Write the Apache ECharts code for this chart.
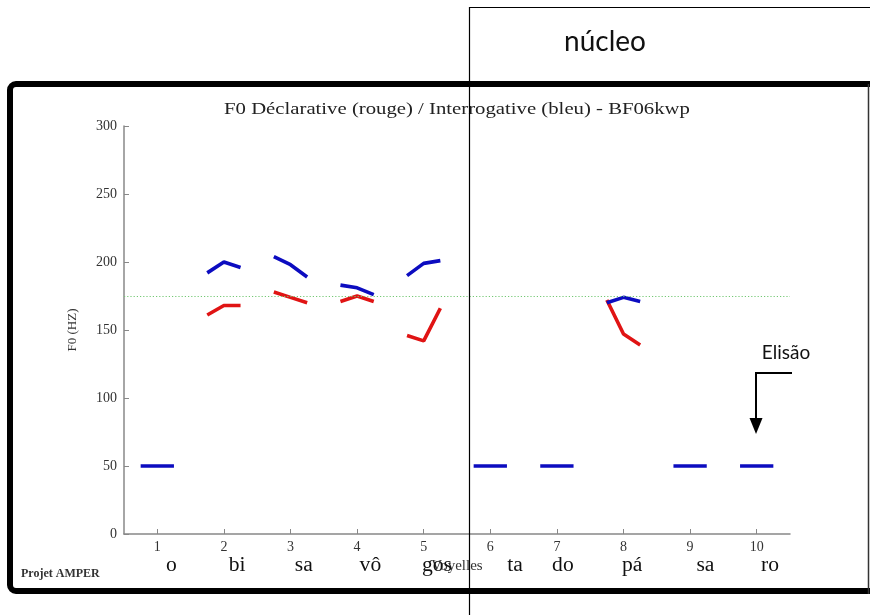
<!DOCTYPE html>
<html>
<head>
<meta charset="utf-8">
<script src="https://cdn.jsdelivr.net/npm/echarts@6/dist/echarts.min.js"></script>
<style>
html,body{margin:0;padding:0;background:#fff;}
#chart{width:870px;height:615px;}
</style>
</head>
<body>
<div id="chart"></div>
<script>
// ---- data ----
var vowels = [1, 2, 3, 4, 5, 6, 7, 8, 9, 10];
var tickLabels = ['1', '2', '3', '4', '5', '6', '7', '8', '9', '10'];
var pointOffsets = [-0.25, 0, 0.25];
var blueF0 = [
  [50, 50, 50],
  [192, 200, 196],
  [204, 198, 189],
  [183, 181, 176],
  [190, 199, 201],
  [50, 50, 50],
  [50, 50, 50],
  [170, 174, 171],
  [50, 50, 50],
  [50, 50, 50]
];
var redF0 = [
  null,
  [161, 168, 168],
  [178, 174, 170],
  [171, 175, 171],
  [146, 142, 166],
  null,
  null,
  [172, 147, 139],
  null,
  null
];
var referenceF0 = 175;
var syllables = ['o', 'bi', 'sa', 'vô', 'gos', 'ta', 'do', 'pá', 'sa', 'ro'];
var syllablePos = [1.21, 2.2, 3.2, 4.2, 5.2, 6.37, 7.09, 8.13, 9.23, 10.2];

var BLUE = '#0c0cc0';
var RED = '#e01414';
var SERIF = '"Liberation Serif","Times New Roman",serif';
var SANS = 'Lato, "Open Sans", sans-serif';

var chart = echarts.init(document.getElementById('chart'));

function segSeries(vals, color, name) {
  var out = [];
  vals.forEach(function (seg, i) {
    if (!seg) return;
    out.push({
      type: 'line',
      name: name,
      data: seg.map(function (v, k) { return [vowels[i] + pointOffsets[k], v]; }),
      showSymbol: false,
      symbol: 'none',
      lineStyle: { color: color, width: 3.6 },
      itemStyle: { color: color },
      z: 3,
      animation: false
    });
  });
  return out;
}

var series = [];
series.push({
  type: 'line',
  name: 'ref',
  data: [],
  markLine: {
    silent: true,
    symbol: 'none',
    label: { show: false },
    lineStyle: { color: '#74c874', type: [1.2, 2], width: 1.2 },
    data: [{ yAxis: referenceF0 }],
    animation: false
  }
});
series = series.concat(segSeries(redF0, RED, 'rouge'));
series = series.concat(segSeries(blueF0, BLUE, 'bleu'));

var option = {
  backgroundColor: '#fff',
  animation: false,
  grid: { left: 124, right: 80, top: 126, bottom: 81, containLabel: false },
  xAxis: {
    type: 'value',
    min: 0.5,
    max: 10.5,
    name: 'Voyelles',
    nameLocation: 'middle',
    nameGap: 23,
    nameTextStyle: { fontFamily: SERIF, fontSize: 15, color: '#333' },
    axisLine: { lineStyle: { color: '#888', width: 1.5 } },
    axisTick: { inside: true, length: 5, lineStyle: { color: '#888' }, customValues: vowels },
    axisLabel: {
      fontFamily: SERIF, fontSize: 14, color: '#333', margin: 6,
      customValues: vowels,
      formatter: function (v) { return tickLabels[vowels.indexOf(v)]; }
    },
    splitLine: { show: false }
  },
  yAxis: {
    type: 'value',
    min: 0,
    max: 300,
    interval: 50,
    name: 'F0 (HZ)',
    nameLocation: 'middle',
    nameRotate: 90,
    nameGap: 45,
    nameTextStyle: { fontFamily: SERIF, fontSize: 13, color: '#333' },
    axisLine: { show: true, lineStyle: { color: '#888', width: 1.5 } },
    axisTick: { show: true, inside: true, length: 5, lineStyle: { color: '#888' } },
    axisLabel: { fontFamily: SERIF, fontSize: 14, color: '#333', margin: 7 },
    splitLine: { show: false }
  },
  series: series
};
chart.setOption(option);

var graphics = [
  { type: 'text', x: 457, y: 110, z: 40, scaleX: 1.22,
    style: { text: 'F0 Déclarative (rouge) / Interrogative (bleu) - BF06kwp', fontFamily: SERIF, fontSize: 17, fill: '#222', align: 'center', verticalAlign: 'middle' } },
  { type: 'rect', shape: { x: 10, y: 84, width: 900, height: 507, r: 6 },
    style: { fill: null, stroke: '#000', lineWidth: 6 }, z: 50, silent: true },
  { type: 'line', shape: { x1: 868.5, y1: 84, x2: 868.5, y2: 594 },
    style: { stroke: '#333', lineWidth: 1.5 }, z: 50, silent: true },
  { type: 'line', shape: { x1: 469.5, y1: 7, x2: 469.5, y2: 615 },
    style: { stroke: '#000', lineWidth: 1.2 }, z: 60, silent: true },
  { type: 'line', shape: { x1: 469, y1: 7.5, x2: 870, y2: 7.5 },
    style: { stroke: '#000', lineWidth: 1.2 }, z: 60, silent: true },
  { type: 'text', x: 605, y: 42, z: 60,
    style: { text: 'núcleo', fontFamily: SANS, fontSize: 28, fill: '#111', align: 'center', verticalAlign: 'middle' } },
  { type: 'text', x: 786, y: 353, z: 60,
    style: { text: 'Elisão', fontFamily: SANS, fontSize: 19, fill: '#111', align: 'center', verticalAlign: 'middle' } },
  { type: 'polyline', shape: { points: [[792, 373], [756, 373], [756, 420]] },
    style: { stroke: '#000', lineWidth: 2, fill: null }, z: 60 },
  { type: 'polygon', shape: { points: [[749.5, 418], [762.5, 418], [756, 434]] },
    style: { fill: '#000' }, z: 60 },
  { type: 'text', x: 21, y: 574, z: 60,
    style: { text: 'Projet AMPER', fontFamily: SERIF, fontSize: 12, fontWeight: 'bold', fill: '#333', align: 'left', verticalAlign: 'middle' } }
];
syllables.forEach(function (s, i) {
  var p = chart.convertToPixel({ gridIndex: 0 }, [syllablePos[i], 0]);
  graphics.push({ type: 'text', x: p[0], y: 566, z: 40, scaleX: 1.08,
    style: { text: s, fontFamily: SERIF, fontSize: 20, fill: '#111', align: 'center', verticalAlign: 'middle' } });
});
chart.setOption({ graphic: graphics });
</script>
</body>
</html>
